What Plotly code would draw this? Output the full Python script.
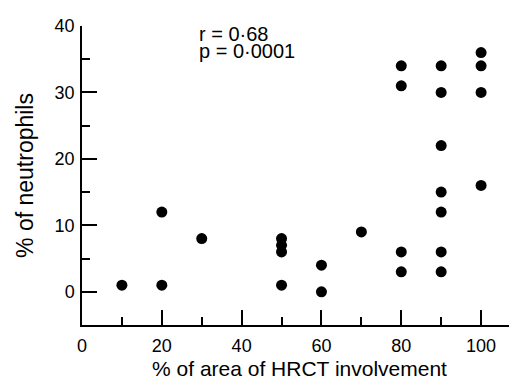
import plotly.graph_objects as go

# Data
hrct_area = [10, 20, 20, 30, 50, 50, 50, 50, 60, 60, 70,
             80, 80, 80, 80, 90, 90, 90, 90, 90, 90, 90,
             100, 100, 100, 100]
neutrophils = [1, 12, 1, 8, 8, 7, 6, 1, 4, 0, 9,
               34, 31, 6, 3, 34, 30, 22, 15, 12, 6, 3,
               36, 34, 30, 16]

x_ticks = [0, 20, 40, 60, 80, 100]
y_ticks = [0, 10, 20, 30, 40]
stats_lines = ["r = 0·68", "p = 0·0001"]

FONT = "Liberation Sans"

fig = go.Figure()
fig.add_trace(go.Scatter(
    x=hrct_area, y=neutrophils, mode="markers",
    marker=dict(color="black", size=11, line=dict(width=0)),
    showlegend=False, hoverinfo="skip", cliponaxis=False,
))

fig.add_annotation(x=28.8, y=38.8, xref="x", yref="y", text=stats_lines[0],
                   showarrow=False, xanchor="left", yanchor="middle",
                   font=dict(family=FONT, size=20, color="black"))
fig.add_annotation(x=28.8, y=36.3, xref="x", yref="y", text=stats_lines[1],
                   showarrow=False, xanchor="left", yanchor="middle",
                   font=dict(family=FONT, size=20, color="black"))

fig.update_layout(
    width=517, height=381,
    margin=dict(l=74, r=8, t=12, b=64),
    paper_bgcolor="white", plot_bgcolor="white",
    font=dict(family=FONT, color="black"),
    xaxis=dict(
        range=[0, 109], tickmode="array", tickvals=x_ticks,
        ticktext=[str(v) for v in x_ticks],
        ticks="inside", ticklen=15, tickwidth=1.5, tickcolor="black",
        minor=dict(tick0=0, dtick=10, ticks="inside", ticklen=8,
                   tickwidth=1.5, tickcolor="black", showgrid=False),
        showline=True, linecolor="black", linewidth=1.5,
        showgrid=False, zeroline=False,
        tickfont=dict(family=FONT, size=18, color="black"),
        ticklabelstandoff=4,
        title=dict(text="% of area of HRCT involvement",
                   font=dict(family=FONT, size=21, color="black"), standoff=6),
    ),
    yaxis=dict(
        range=[-5, 40], tickmode="array", tickvals=y_ticks,
        ticktext=[str(v) for v in y_ticks],
        ticks="inside", ticklen=15, tickwidth=1.5, tickcolor="black",
        minor=dict(tick0=0, dtick=5, ticks="inside", ticklen=8,
                   tickwidth=1.5, tickcolor="black", showgrid=False),
        showline=True, linecolor="black", linewidth=1.5,
        showgrid=False, zeroline=False,
        tickfont=dict(family=FONT, size=18, color="black"),
        ticklabelstandoff=2,
        title=dict(text="% of neutrophils",
                   font=dict(family=FONT, size=23, color="black"), standoff=15),
    ),
)

fig.write_html("out.html")
